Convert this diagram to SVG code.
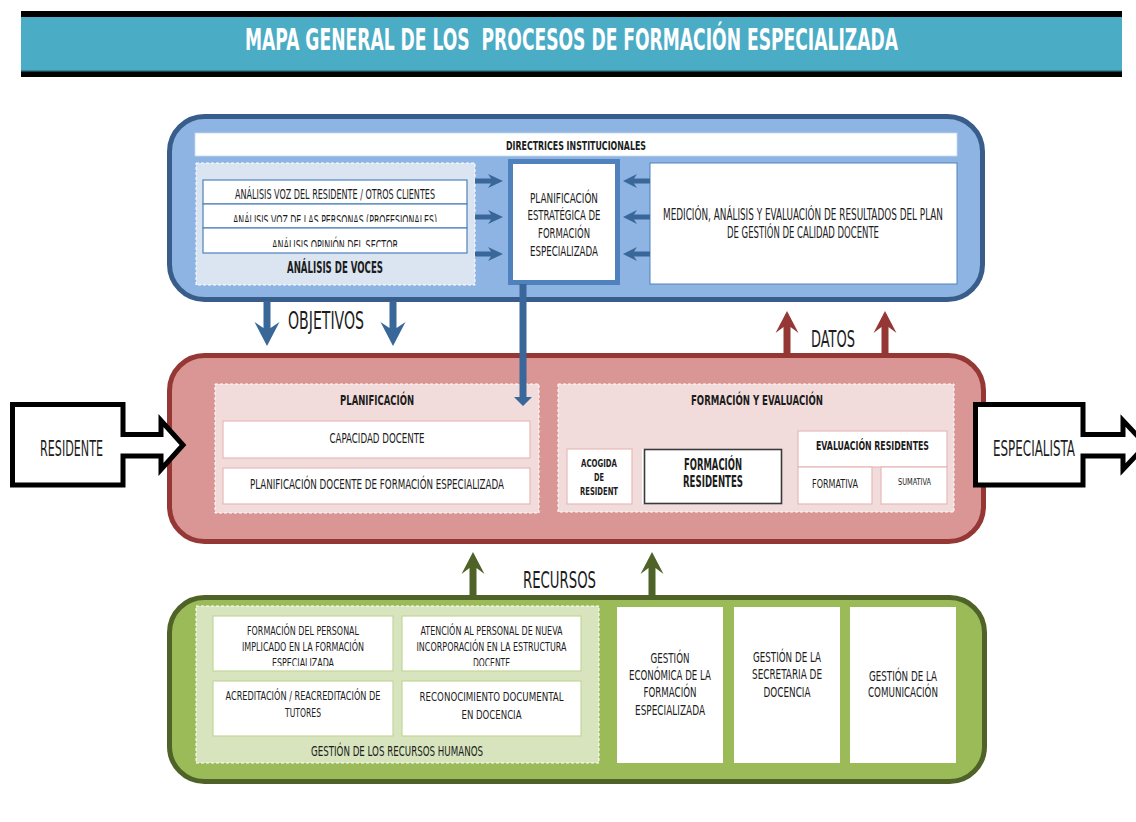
<svg xmlns="http://www.w3.org/2000/svg" width="1136" height="822" viewBox="0 0 1136 822">
<style>
text{font-family:"Liberation Sans Narrow","DejaVu Sans Condensed","Liberation Sans",Arial,sans-serif;fill:#1c1c1c;text-anchor:middle}
.b{font-weight:bold}
.w{fill:#fff;stroke:none}
.rowb{fill:#fff;stroke:#4f81bd;stroke-width:1.2}
.pinkb{fill:#fff;stroke:#e6b9b8;stroke-width:1.2}
.greenb{fill:#fff;stroke:#c3d69b;stroke-width:1.2}
.dash{stroke:#ffffff;stroke-width:1;stroke-dasharray:3 2}
.blueA{fill:#3a6799}
.redA{fill:#953735}
.greenA{fill:#4f6228}
.io{fill:#fff;stroke:#000;stroke-width:5;stroke-linejoin:miter}
</style>
<defs>
<clipPath id="cRow2"><rect x="203" y="205" width="264" height="17"/></clipPath>
<clipPath id="cRow3"><rect x="203" y="229" width="264" height="18"/></clipPath>
<clipPath id="cHR1"><rect x="213" y="616" width="180" height="50"/></clipPath>
<clipPath id="cHR2"><rect x="402" y="616" width="179" height="50"/></clipPath>
</defs>

<g id="title">
<rect x="21" y="11" width="1101" height="66" fill="#000"/>
<rect x="21" y="17" width="1101" height="54" fill="#4bacc6"/>
<rect x="21" y="70" width="1101" height="1.5" fill="#31849b"/>
<text x="571.5" y="50" font-size="30" class="b" style="fill:#fff" textLength="653" lengthAdjust="spacingAndGlyphs" xml:space="preserve">MAPA GENERAL DE LOS  PROCESOS DE FORMACIÓN ESPECIALIZADA</text>
</g>

<g id="estrategicos">
<rect x="169.5" y="116.5" width="813" height="183" rx="35" fill="#8eb4e3" stroke="#385d8a" stroke-width="5"/>
</g>
<g id="directrices">
<rect x="195" y="133" width="762" height="23" fill="#fff" stroke="#c6d9f1" stroke-width="0.8"/>
<text x="576" y="150" font-size="12" class="b" textLength="140" lengthAdjust="spacingAndGlyphs">DIRECTRICES INSTITUCIONALES</text>
</g>
<g id="analisis-voces">
<rect x="196" y="163" width="279" height="122" fill="#dbe5f1" class="dash"/>
<rect x="203" y="180" width="264" height="24" class="rowb"/>
<rect x="203" y="204" width="264" height="24" class="rowb"/>
<rect x="203" y="228" width="264" height="25" class="rowb"/>
<text x="335" y="199" font-size="14.5" textLength="200" lengthAdjust="spacingAndGlyphs">ANÁLISIS VOZ DEL RESIDENTE / OTROS CLIENTES</text>
<text x="335" y="225" font-size="14.5" textLength="204" lengthAdjust="spacingAndGlyphs" clip-path="url(#cRow2)">ANÁLISIS VOZ DE LAS PERSONAS (PROFESIONALES)</text>
<text x="335" y="249.5" font-size="14.5" textLength="126" lengthAdjust="spacingAndGlyphs" clip-path="url(#cRow3)">ANÁLISIS OPINIÓN DEL SECTOR</text>
<text x="335" y="272.7" font-size="15" class="b" textLength="96" lengthAdjust="spacingAndGlyphs">ANÁLISIS DE VOCES</text>
</g>
<g id="planificacion-estrategica">
<rect x="510.5" y="161.5" width="107" height="121" fill="#fff" stroke="#4f81bd" stroke-width="5"/>
<text x="564" y="203" font-size="13.5" textLength="68" lengthAdjust="spacingAndGlyphs">PLANIFICACIÓN</text>
<text x="564" y="220" font-size="13.5" textLength="73" lengthAdjust="spacingAndGlyphs">ESTRATÉGICA DE</text>
<text x="564" y="237.7" font-size="13.5" textLength="52" lengthAdjust="spacingAndGlyphs">FORMACIÓN</text>
<text x="564" y="255.5" font-size="13.5" textLength="68" lengthAdjust="spacingAndGlyphs">ESPECIALIZADA</text>
</g>
<g id="medicion">
<rect x="650" y="163" width="307" height="121" fill="#fff" stroke="#4f81bd" stroke-width="1"/>
<text x="803" y="220" font-size="16" textLength="280" lengthAdjust="spacingAndGlyphs">MEDICIÓN, ANÁLISIS Y EVALUACIÓN DE RESULTADOS DEL PLAN</text>
<text x="803" y="238" font-size="16" textLength="152" lengthAdjust="spacingAndGlyphs">DE GESTIÓN DE CALIDAD DOCENTE</text>
</g>

<g id="operativos">
<rect x="169.5" y="355.5" width="814" height="186" rx="35" fill="#d99694" stroke="#953735" stroke-width="5"/>
</g>
<g id="planificacion">
<rect x="215" y="384" width="324" height="129" fill="#f2dcdb" class="dash"/>
<text x="377" y="405" font-size="14" class="b" textLength="74" lengthAdjust="spacingAndGlyphs">PLANIFICACIÓN</text>
<rect x="223" y="421" width="307" height="37" class="pinkb"/>
<text x="377" y="443" font-size="14" textLength="95" lengthAdjust="spacingAndGlyphs">CAPACIDAD DOCENTE</text>
<rect x="223" y="468" width="307" height="36" class="pinkb"/>
<text x="377" y="489" font-size="14" textLength="254" lengthAdjust="spacingAndGlyphs">PLANIFICACIÓN DOCENTE DE FORMACIÓN ESPECIALIZADA</text>
</g>
<g id="formacion-evaluacion">
<rect x="558" y="384" width="396" height="128" fill="#f2dcdb" class="dash"/>
<text x="757" y="405" font-size="14" class="b" textLength="132" lengthAdjust="spacingAndGlyphs">FORMACIÓN Y EVALUACIÓN</text>
</g>
<g id="acogida">
<rect x="567" y="449" width="65" height="55" class="pinkb"/>
<text x="599" y="466.7" font-size="10" class="b" textLength="36" lengthAdjust="spacingAndGlyphs">ACOGIDA</text>
<text x="599" y="480.5" font-size="10" class="b" textLength="10" lengthAdjust="spacingAndGlyphs">DE</text>
<text x="599" y="495" font-size="10" class="b" textLength="38" lengthAdjust="spacingAndGlyphs">RESIDENT</text>
</g>
<g id="formacion-residentes">
<rect x="642" y="449" width="4" height="55" fill="#fff"/>
<rect x="644.5" y="449.5" width="137" height="54" fill="#fff" stroke="#3a3a3a" stroke-width="1.6"/>
<text x="713" y="470" font-size="15" class="b" textLength="58" lengthAdjust="spacingAndGlyphs">FORMACIÓN</text>
<text x="713" y="486.7" font-size="15" class="b" textLength="60" lengthAdjust="spacingAndGlyphs">RESIDENTES</text>
</g>
<g id="evaluacion-residentes">
<rect x="798" y="431" width="149" height="36" class="pinkb"/>
<text x="872.5" y="450" font-size="13" class="b" textLength="113" lengthAdjust="spacingAndGlyphs">EVALUACIÓN RESIDENTES</text>
<rect x="798" y="467" width="74" height="37" class="pinkb"/>
<text x="835" y="487.7" font-size="13" textLength="46" lengthAdjust="spacingAndGlyphs">FORMATIVA</text>
<rect x="881" y="467" width="66" height="37" class="pinkb"/>
<text x="914.5" y="485" font-size="9.5" textLength="33" lengthAdjust="spacingAndGlyphs">SUMATIVA</text>
</g>

<g id="soporte">
<rect x="169.5" y="597.5" width="815" height="184" rx="35" fill="#9bbb59" stroke="#4f6228" stroke-width="5"/>
</g>
<g id="recursos-humanos">
<rect x="196" y="606" width="403" height="157" fill="#d7e4bd" class="dash"/>
<rect x="213" y="616" width="180" height="55" class="greenb"/>
<text x="303" y="635" font-size="13" textLength="112" lengthAdjust="spacingAndGlyphs">FORMACIÓN DEL PERSONAL</text>
<text x="303" y="651" font-size="13" textLength="122" lengthAdjust="spacingAndGlyphs">IMPLICADO EN LA FORMACIÓN</text>
<text x="303" y="667.3" font-size="13" textLength="62" lengthAdjust="spacingAndGlyphs" clip-path="url(#cHR1)">ESPECIALIZADA</text>
<rect x="402" y="616" width="179" height="55" class="greenb"/>
<text x="491.5" y="635" font-size="13" textLength="142" lengthAdjust="spacingAndGlyphs">ATENCIÓN AL PERSONAL DE NUEVA</text>
<text x="491.5" y="651" font-size="13" textLength="150" lengthAdjust="spacingAndGlyphs">INCORPORACIÓN EN LA ESTRUCTURA</text>
<text x="491.5" y="667.3" font-size="13" textLength="37" lengthAdjust="spacingAndGlyphs" clip-path="url(#cHR2)">DOCENTE</text>
<rect x="213" y="681" width="180" height="55" class="greenb"/>
<text x="303" y="700" font-size="13" textLength="155" lengthAdjust="spacingAndGlyphs">ACREDITACIÓN / REACREDITACIÓN DE</text>
<text x="303" y="716.7" font-size="13" textLength="36" lengthAdjust="spacingAndGlyphs">TUTORES</text>
<rect x="402" y="681" width="179" height="55" class="greenb"/>
<text x="491.5" y="700.7" font-size="13" textLength="144" lengthAdjust="spacingAndGlyphs">RECONOCIMIENTO DOCUMENTAL</text>
<text x="491.5" y="719" font-size="13" textLength="60" lengthAdjust="spacingAndGlyphs">EN DOCENCIA</text>
<text x="397" y="756" font-size="14" textLength="172" lengthAdjust="spacingAndGlyphs">GESTIÓN DE LOS RECURSOS HUMANOS</text>
</g>
<g id="gestion-economica">
<rect x="617" y="607" width="106" height="156" class="w"/>
<text x="670" y="662.7" font-size="14.5" textLength="39" lengthAdjust="spacingAndGlyphs">GESTIÓN</text>
<text x="670" y="680" font-size="14.5" textLength="82" lengthAdjust="spacingAndGlyphs">ECONÓMICA DE LA</text>
<text x="670" y="697" font-size="14.5" textLength="53" lengthAdjust="spacingAndGlyphs">FORMACIÓN</text>
<text x="670" y="715" font-size="14.5" textLength="70" lengthAdjust="spacingAndGlyphs">ESPECIALIZADA</text>
</g>
<g id="gestion-secretaria">
<rect x="734" y="607" width="106" height="156" class="w"/>
<text x="787" y="661.7" font-size="14.5" textLength="68" lengthAdjust="spacingAndGlyphs">GESTIÓN DE LA</text>
<text x="787" y="678.5" font-size="14.5" textLength="70" lengthAdjust="spacingAndGlyphs">SECRETARIA DE</text>
<text x="787" y="696.7" font-size="14.5" textLength="47" lengthAdjust="spacingAndGlyphs">DOCENCIA</text>
</g>
<g id="gestion-comunicacion">
<rect x="850" y="607" width="106" height="156" class="w"/>
<text x="903" y="680.7" font-size="14.5" textLength="68" lengthAdjust="spacingAndGlyphs">GESTIÓN DE LA</text>
<text x="903" y="697" font-size="14.5" textLength="70" lengthAdjust="spacingAndGlyphs">COMUNICACIÓN</text>
</g>

<g id="residente">
<polygon class="io" points="12.5,404.5 123,404.5 123,434.5 161,434.5 161,420.5 183,445 161,469.5 161,456 123,456 123,485 12.5,485"/>
<text x="71.5" y="456" font-size="21" textLength="63" lengthAdjust="spacingAndGlyphs">RESIDENTE</text>
</g>
<g id="especialista">
<polygon class="io" points="975.5,404.5 1083,404.5 1083,434.5 1123,434.5 1123,420.5 1146,445 1123,469.5 1123,456 1083,456 1083,485 975.5,485"/>
<text x="1034" y="456" font-size="21" textLength="82" lengthAdjust="spacingAndGlyphs">ESPECIALISTA</text>
</g>

<g id="connectors">
<polygon class="blueA" points="475,178.5 491,178.5 488,174 503,181 488,188 491,183.5 475,183.5"/>
<polygon class="blueA" points="475,214.5 491,214.5 488,210 503,217 488,224 491,219.5 475,219.5"/>
<polygon class="blueA" points="475,251.5 491,251.5 488,247 503,254 488,261 491,256.5 475,256.5"/>
<polygon class="blueA" points="650,178.5 634,178.5 637,174 623,181 637,188 634,183.5 650,183.5"/>
<polygon class="blueA" points="650,214.5 634,214.5 637,210 623,217 637,224 634,219.5 650,219.5"/>
<polygon class="blueA" points="650,251.5 634,251.5 637,247 623,254 637,261 634,256.5 650,256.5"/>
<polygon class="blueA" points="519.5,284 526.5,284 526.5,397 532,397 523,406 514,397 519.5,397"/>
<polygon class="blueA" points="263.5,301 270.5,301 270.5,328 279.5,322 267,346 254.5,322 263.5,328"/>
<polygon class="blueA" points="389.5,301 396.5,301 396.5,328 405.5,322 393,346 380.5,322 389.5,328"/>
<polygon class="redA" points="783.5,354 790.5,354 790.5,327 798.5,333 787,311 775.5,333 783.5,327"/>
<polygon class="redA" points="881.5,354 888.5,354 888.5,327 896.5,333 885,311 873.5,333 881.5,327"/>
<polygon class="greenA" points="469.5,596 476.5,596 476.5,568 484.5,574 473,552 461.5,574 469.5,568"/>
<polygon class="greenA" points="648.5,596 655.5,596 655.5,568 663.5,574 652,552 640.5,574 648.5,568"/>
<text x="326" y="329" font-size="24" textLength="76" lengthAdjust="spacingAndGlyphs">OBJETIVOS</text>
<text x="833" y="346.5" font-size="23" textLength="44" lengthAdjust="spacingAndGlyphs">DATOS</text>
<text x="559.5" y="588" font-size="23" textLength="73" lengthAdjust="spacingAndGlyphs">RECURSOS</text>
</g>
</svg>
